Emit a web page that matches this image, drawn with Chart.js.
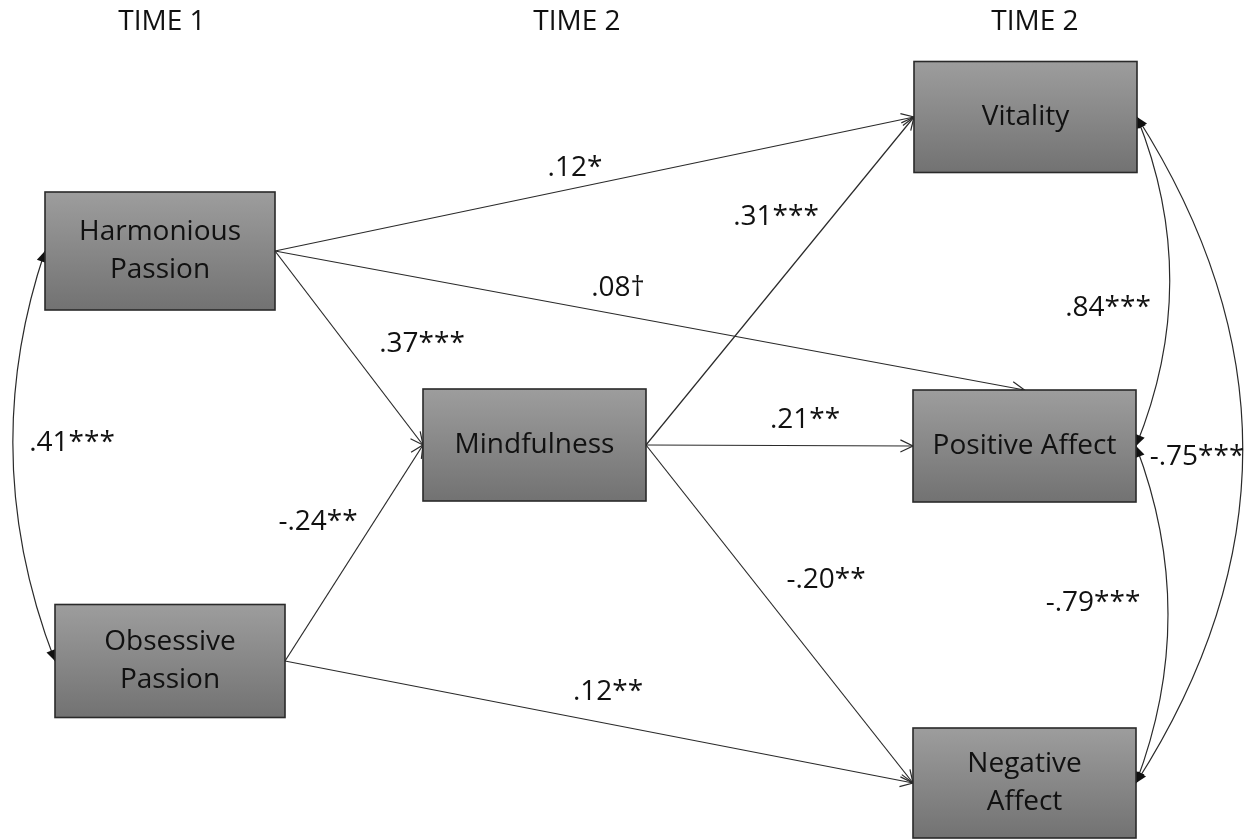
<!DOCTYPE html>
<html>
<head>
<meta charset="utf-8">
<script src="https://cdn.jsdelivr.net/npm/chart.js@4.4.0/dist/chart.umd.min.js"></script>
<style>
  html, body { margin: 0; padding: 0; background: #fff; }
  #wrap { width: 1245px; height: 840px; position: relative; }
</style>
</head>
<body>
<div id="wrap"><canvas id="diagrama"></canvas></div>
<script>
// Nodos del modelo (centro de cada caja, unidades del diagrama)
const nodeNames = ['Harmonious\nPassion', 'Obsessive\nPassion', 'Mindfulness', 'Vitality', 'Positive Affect', 'Negative\nAffect'];
const nodeX = [160, 170, 534.5, 1025.5, 1024.5, 1024.5];
const nodeY = [251, 661, 445, 117, 446, 783];

// Encabezados de columnas
const timeLabels = ['TIME 1', 'TIME 2', 'TIME 2'];
const timeX = [162, 577, 1035];
const timeY = [22, 22, 22];

// Efectos directos (origen -> destino)
const pathFrom = [0, 0, 0, 1, 1, 2, 2, 2];
const pathTo   = [3, 4, 2, 2, 5, 3, 4, 5];
const pathCoef = ['.12*', '.08\u2020', '.37***', '-.24**', '.12**', '.31***', '.21**', '-.20**'];
const pathLabelX = [575, 618, 422, 318, 608, 776, 805, 826];
const pathLabelY = [168, 288, 344, 522, 692, 217, 420, 580];

// Covarianzas (flechas curvas de doble punta)
const covFrom = [0, 3, 4, 3];
const covTo   = [1, 4, 5, 5];
const covCoef = ['.41***', '.84***', '-.79***', '-.75***'];
const covLabelX = [72, 1108, 1093, 1197];
const covLabelY = [443, 308, 603, 457];

// Estilo / geometría de dibujo
const FONT = '28px "Open Sans", "DejaVu Sans", sans-serif';
const boxW = [230, 230, 223, 223, 223, 223];
const boxH = [118, 113, 112, 111, 112, 110];
const entryTop = [false, true, false, false, false, false, false, false];
const covSide = ['left', 'right', 'right', 'right'];
const covBend = [69, 66, 64, 212];
const LINE = '#2a2a2a';

function portOut(i) { return { x: nodeX[i] + boxW[i] / 2, y: nodeY[i] }; }
function portIn(i, top) {
    if (top) return { x: nodeX[i], y: nodeY[i] - boxH[i] / 2 };
    return { x: nodeX[i] - boxW[i] / 2, y: nodeY[i] };
}

// Un dataset por flecha recta
const pathDatasets = pathFrom.map((f, k) => ({
    type: 'scatter',
    data: [portOut(f), portIn(pathTo[k], entryTop[k])],
    showLine: true,
    borderColor: LINE,
    borderWidth: 1.2,
    pointRadius: 0,
    fill: false
}));

function openHead(ctx, x, y, ang) {
    const L = 14, a = 0.45;
    ctx.beginPath();
    ctx.moveTo(x - L * Math.cos(ang - a), y - L * Math.sin(ang - a));
    ctx.lineTo(x, y);
    ctx.lineTo(x - L * Math.cos(ang + a), y - L * Math.sin(ang + a));
    ctx.stroke();
}
function solidHead(ctx, x, y, ang) {
    const L = 12, a = 0.42;
    ctx.beginPath();
    ctx.moveTo(x, y);
    ctx.lineTo(x - L * Math.cos(ang - a), y - L * Math.sin(ang - a));
    ctx.lineTo(x - L * Math.cos(ang + a), y - L * Math.sin(ang + a));
    ctx.closePath();
    ctx.fill();
}

const diagramPlugin = {
    id: 'pathDiagram',
    afterDatasetsDraw(chart) {
        const ctx = chart.ctx;
        const xs = chart.scales.x, ys = chart.scales.y;
        const px = v => xs.getPixelForValue(v);
        const py = v => ys.getPixelForValue(v);
        ctx.save();
        ctx.strokeStyle = LINE;
        ctx.fillStyle = '#111';
        ctx.lineWidth = 1.2;

        // puntas abiertas de las flechas rectas
        pathDatasets.forEach(ds => {
            const [a, b] = ds.data;
            const ang = Math.atan2(py(b.y) - py(a.y), px(b.x) - px(a.x));
            openHead(ctx, px(b.x), py(b.y), ang);
        });

        // covarianzas curvas
        covFrom.forEach((f, k) => {
            const t = covTo[k];
            const left = covSide[k] === 'left';
            const x1 = left ? nodeX[f] - boxW[f] / 2 : nodeX[f] + boxW[f] / 2;
            const x2 = left ? nodeX[t] - boxW[t] / 2 : nodeX[t] + boxW[t] / 2;
            const y1 = nodeY[f], y2 = nodeY[t];
            const cx = left ? Math.min(x1, x2) - covBend[k] : Math.max(x1, x2) + covBend[k];
            const cy = (y1 + y2) / 2;
            ctx.beginPath();
            ctx.moveTo(px(x1), py(y1));
            ctx.quadraticCurveTo(px(cx), py(cy), px(x2), py(y2));
            ctx.stroke();
            solidHead(ctx, px(x1), py(y1), Math.atan2(py(y1) - py(cy), px(x1) - px(cx)));
            solidHead(ctx, px(x2), py(y2), Math.atan2(py(y2) - py(cy), px(x2) - px(cx)));
        });

        // cajas
        nodeNames.forEach((name, i) => {
            const x0 = px(nodeX[i] - boxW[i] / 2), y0 = py(nodeY[i] - boxH[i] / 2);
            const w = px(nodeX[i] + boxW[i] / 2) - x0, h = py(nodeY[i] + boxH[i] / 2) - y0;
            const g = ctx.createLinearGradient(0, y0, 0, y0 + h);
            g.addColorStop(0, '#9d9d9d');
            g.addColorStop(1, '#727272');
            ctx.fillStyle = g;
            ctx.fillRect(x0, y0, w, h);
            ctx.strokeStyle = '#2a2a2a';
            ctx.lineWidth = 1.6;
            ctx.strokeRect(x0, y0, w, h);
            ctx.fillStyle = '#111';
            ctx.font = FONT;
            ctx.textAlign = 'center';
            ctx.textBaseline = 'middle';
            const lines = name.split('\n');
            lines.forEach((ln, j) => {
                const off = (j - (lines.length - 1) / 2) * 38;
                ctx.fillText(ln, px(nodeX[i]), py(nodeY[i]) + off);
            });
        });

        // coeficientes y encabezados
        ctx.fillStyle = '#111';
        ctx.font = FONT;
        ctx.textAlign = 'center';
        ctx.textBaseline = 'middle';
        pathCoef.forEach((c, k) => ctx.fillText(c, px(pathLabelX[k]), py(pathLabelY[k])));
        covCoef.forEach((c, k) => ctx.fillText(c, px(covLabelX[k]), py(covLabelY[k])));
        timeLabels.forEach((t, k) => ctx.fillText(t, px(timeX[k]), py(timeY[k])));
        ctx.restore();
    }
};

const ctx = document.getElementById('diagrama').getContext('2d');
new Chart(ctx, {
    type: 'scatter',
    data: { datasets: pathDatasets },
    options: {
        responsive: true,
        maintainAspectRatio: false,
        animation: false,
        layout: { padding: 0 },
        plugins: { legend: { display: false }, tooltip: { enabled: false } },
        scales: {
            x: { type: 'linear', min: 0, max: 1245, display: false },
            y: { type: 'linear', min: 0, max: 840, reverse: true, display: false }
        }
    },
    plugins: [diagramPlugin]
});
</script>
</body>
</html>
